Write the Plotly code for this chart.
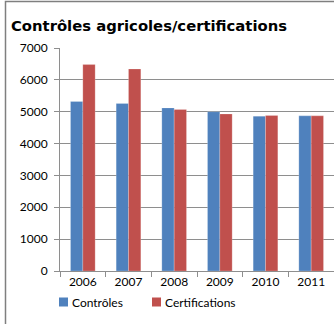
import plotly.graph_objects as go

# Chart data
years = ["2006", "2007", "2008", "2009", "2010", "2011"]
controles = [5320, 5260, 5120, 5000, 4860, 4870]
certifications = [6480, 6340, 5070, 4930, 4880, 4870]
series_names = ["Contrôles", "Certifications"]
series_colors = ["#4F81BD", "#C0504D"]
y_ticks = [0, 1000, 2000, 3000, 4000, 5000, 6000, 7000]

W, H = 334, 324
M_L, M_R, M_T, M_B = 60, 0, 48, 53
PW, PH = W - M_L - M_R, H - M_T - M_B


def px_x(px):
    """Pixel x -> paper x."""
    return (px - M_L) / PW


def px_y(py):
    """Pixel y (from top) -> paper y."""
    return (H - M_B - py) / PH


fig = go.Figure()
for name, vals, col in zip(series_names, [controles, certifications], series_colors):
    fig.add_trace(go.Bar(
        x=years, y=vals, name=name,
        marker=dict(color=col, line=dict(color="rgba(255,255,255,0.35)", width=0.6)),
        showlegend=False,
    ))

grid = "#8E8E8E"
frame = "#7F7F7F"
font_body = "Lato, 'Liberation Sans', sans-serif"

fig.update_layout(
    width=W, height=H,
    margin=dict(l=M_L, r=M_R, t=M_T, b=M_B),
    paper_bgcolor="white", plot_bgcolor="white",
    barmode="group", bargap=0.46, bargroupgap=0.0,
    title=dict(
        text="<b>Contrôles agricoles/certifications</b>",
        font=dict(family="DejaVu Sans", size=14.8, color="black"),
        xref="container", yref="container",
        x=11 / W, xanchor="left", y=1 - 26 / H, yanchor="middle",
    ),
    xaxis=dict(
        type="category", range=[-0.5, 5.5],
        showline=True, linecolor=grid, linewidth=1,
        ticks="outside", ticklen=5, tickcolor=grid, tickson="boundaries",
        showgrid=False, tickfont=dict(family=font_body, size=12, color="black"),
        fixedrange=True,
    ),
    yaxis=dict(
        range=[0, 7000], tickvals=y_ticks,
        showline=True, linecolor=grid, linewidth=1,
        ticks="outside", ticklen=5, tickcolor=grid,
        showgrid=True, gridcolor=grid, gridwidth=1, zeroline=False,
        tickfont=dict(family=font_body, size=12, color="black"),
        ticklabelstandoff=4,
        fixedrange=True,
    ),
)

# outer chart frame: top and left edges (the rest runs off the canvas)
fx0, fy0 = px_x(5.5), px_y(1.5)
fig.add_shape(type="path", xref="paper", yref="paper",
              path=f"M {fx0} {px_y(H + 5)} L {fx0} {fy0} L {px_x(W + 5)} {fy0}",
              line=dict(color=frame, width=1.5), layer="above")

# legend: colour swatches with labels
legend_items = [(59, series_names[0], series_colors[0]), (152, series_names[1], series_colors[1])]
for x0, name, col in legend_items:
    fig.add_shape(type="rect", xref="paper", yref="paper",
                  x0=px_x(x0), x1=px_x(x0 + 9), y0=px_y(306.5), y1=px_y(297.5),
                  fillcolor=col, line=dict(width=0))
    fig.add_annotation(text=name, xref="paper", yref="paper",
                       x=px_x(x0 + 11), y=px_y(302), xanchor="left", yanchor="middle",
                       showarrow=False, font=dict(family=font_body, size=12, color="black"))

fig.write_html("out.html", config={"displayModeBar": False})
